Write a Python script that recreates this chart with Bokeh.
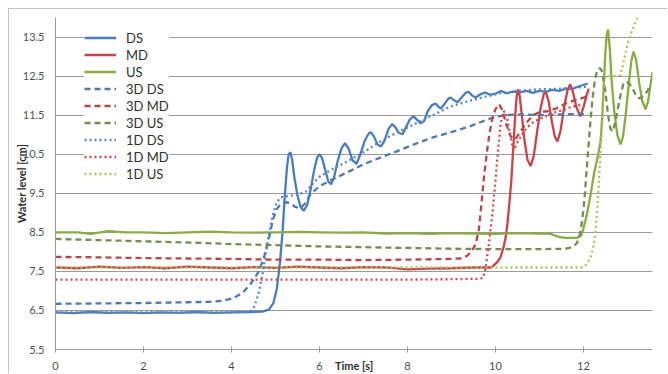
from bokeh.plotting import figure
from bokeh.models import Range1d, FixedTicker, Legend, LegendItem
from bokeh.embed import file_html
from bokeh.resources import INLINE

# ---- data (time [s], water level [cm]) ----
ds_t = [0, 0.4, 0.8, 1.2, 1.6, 2.0, 2.4, 2.8, 3.2, 3.6, 4.0, 4.4, 4.7, 4.85, 4.95, 5.03, 5.1, 5.16, 5.21, 5.26, 5.3, 5.34, 5.38, 5.43, 5.5, 5.57, 5.64, 5.72, 5.8, 5.88, 5.95, 6.0, 6.06, 6.13, 6.2, 6.26, 6.33, 6.42, 6.5, 6.58, 6.66, 6.75, 6.84, 6.93, 7.03, 7.12, 7.17, 7.24, 7.32, 7.4, 7.48, 7.57, 7.65, 7.72, 7.8, 7.89, 7.97, 8.06, 8.14, 8.22, 8.3, 8.38, 8.46, 8.55, 8.64, 8.7, 8.76, 8.85, 8.93, 8.98, 9.06, 9.14, 9.23, 9.32, 9.39, 9.47, 9.55, 9.65, 9.77, 9.88, 10.0, 10.12, 10.25, 10.4, 10.55, 10.7, 10.85, 11.0, 11.15, 11.3, 11.45, 11.6, 11.75, 11.9, 12.1]
ds_h = [6.45, 6.43, 6.46, 6.44, 6.45, 6.43, 6.45, 6.44, 6.46, 6.44, 6.45, 6.46, 6.47, 6.52, 6.68, 7.05, 7.7, 8.5, 9.4, 10.15, 10.5, 10.55, 10.35, 9.9, 9.45, 9.15, 9.05, 9.2, 9.6, 10.1, 10.42, 10.5, 10.4, 10.1, 9.8, 9.73, 9.9, 10.35, 10.65, 10.78, 10.65, 10.35, 10.25, 10.5, 10.85, 11.03, 11.06, 10.95, 10.75, 10.7, 10.85, 11.15, 11.27, 11.2, 11.05, 11.01, 11.2, 11.4, 11.47, 11.38, 11.29, 11.35, 11.6, 11.75, 11.8, 11.72, 11.67, 11.8, 11.92, 11.95, 11.88, 11.83, 11.95, 12.07, 12.1, 12.0, 11.95, 12.03, 12.08, 12.02, 12.05, 12.12, 12.06, 12.1, 12.08, 12.12, 12.07, 12.12, 12.1, 12.15, 12.12, 12.18, 12.17, 12.24, 12.31]

md_t = [0, 0.5, 1, 1.5, 2, 2.5, 3, 3.5, 4, 4.5, 5, 5.5, 6, 6.5, 7, 7.5, 8, 8.5, 9, 9.5, 9.9, 9.95, 10.05, 10.11, 10.18, 10.23, 10.27, 10.3, 10.36, 10.41, 10.45, 10.48, 10.51, 10.55, 10.6, 10.66, 10.73, 10.8, 10.87, 10.95, 11.03, 11.1, 11.15, 11.21, 11.28, 11.35, 11.41, 11.48, 11.56, 11.64, 11.7, 11.76, 11.84, 11.93, 12.0, 12.07, 12.12]
md_h = [7.6, 7.58, 7.62, 7.59, 7.61, 7.58, 7.62, 7.6, 7.58, 7.61, 7.59, 7.62, 7.6, 7.58, 7.61, 7.6, 7.55, 7.57, 7.58, 7.6, 7.6, 7.64, 7.75, 7.85, 8.1, 8.36, 8.7, 9.04, 9.81, 10.75, 11.5, 11.95, 12.16, 12.0, 11.5, 10.85, 10.35, 10.2, 10.45, 11.1, 11.7, 12.05, 12.08, 11.85, 11.35, 10.95, 10.83, 11.1, 11.7, 12.15, 12.29, 12.1, 11.7, 11.47, 11.7, 12.0, 12.18]

us_t = [0, 0.5, 0.8, 1.2, 1.6, 2, 2.5, 3, 3.5, 4, 4.5, 5, 5.5, 6, 6.5, 7, 7.5, 8, 8.5, 9, 9.5, 10, 10.5, 11, 11.25, 11.45, 11.6, 11.86, 11.95, 12.0, 12.08, 12.16, 12.24, 12.32, 12.39, 12.43, 12.46, 12.5, 12.53, 12.56, 12.6, 12.64, 12.7, 12.77, 12.84, 12.9, 12.96, 13.03, 13.09, 13.14, 13.2, 13.27, 13.34, 13.41, 13.47, 13.52, 13.57]
us_h = [8.5, 8.5, 8.46, 8.53, 8.5, 8.5, 8.48, 8.5, 8.52, 8.5, 8.49, 8.5, 8.51, 8.5, 8.49, 8.5, 8.47, 8.48, 8.46, 8.48, 8.47, 8.46, 8.48, 8.47, 8.46, 8.38, 8.36, 8.36, 8.42, 8.6, 8.97, 9.45, 10.0, 10.4, 10.83, 11.5, 12.2, 13.13, 13.55, 13.69, 13.2, 12.4, 11.6, 11.0, 10.75, 10.95, 11.5, 12.3, 12.9, 13.13, 12.9, 12.3, 11.85, 11.65, 11.85, 12.25, 12.6]

ds3_t = [0, 1, 2, 3, 3.5, 3.82, 4.05, 4.25, 4.45, 4.62, 4.75, 4.85, 4.95, 5.03, 5.12, 5.22, 5.32, 5.45, 5.57, 5.68, 5.8, 6.0, 6.25, 6.6, 7.0, 7.4, 7.77, 8.15, 8.52, 8.98, 9.43, 9.89, 10.2, 10.6, 11.0, 11.5, 12.11]
ds3_h = [6.67, 6.68, 6.69, 6.71, 6.72, 6.75, 6.82, 6.95, 7.2, 7.5, 7.9, 8.35, 8.85, 9.1, 9.22, 9.27, 9.25, 9.15, 9.12, 9.25, 9.48, 9.68, 9.83, 10.02, 10.24, 10.42, 10.58, 10.75, 10.91, 11.06, 11.22, 11.42, 11.5, 11.52, 11.5, 11.52, 11.53]

md3_t = [0, 1, 2, 3, 4, 5, 6, 7, 8, 8.98, 9.2, 9.36, 9.48, 9.55, 9.62, 9.66, 9.73, 9.8, 9.86, 9.93, 10.0, 10.08, 10.15, 10.25, 10.35, 10.45, 10.55, 10.7, 10.86, 11.0, 11.2, 11.4, 11.6, 11.8, 12.0, 12.11]
md3_h = [7.87, 7.86, 7.84, 7.83, 7.82, 7.8, 7.8, 7.79, 7.8, 7.82, 7.83, 7.9, 8.05, 8.2, 8.55, 8.97, 9.81, 10.5, 11.0, 11.42, 11.65, 11.78, 11.65, 11.25, 10.95, 10.88, 11.05, 11.3, 11.5, 11.58, 11.6, 11.68, 11.8, 11.88, 11.95, 11.98]

us3_t = [0, 1, 2, 3, 4, 5, 6, 7, 8, 9, 10, 11, 11.6, 11.75, 11.85, 11.92, 11.97, 12.02, 12.06, 12.1, 12.15, 12.2, 12.26, 12.32, 12.38, 12.43, 12.5, 12.56, 12.61, 12.66, 12.72, 12.78, 12.85, 12.91, 12.98, 13.05, 13.13, 13.22, 13.3, 13.38, 13.45, 13.52]
us3_h = [8.33, 8.3, 8.27, 8.24, 8.2, 8.17, 8.14, 8.12, 8.1, 8.08, 8.07, 8.07, 8.08, 8.12, 8.22, 8.45, 8.8, 9.3, 9.9, 10.5, 11.2, 11.85, 12.4, 12.68, 12.7, 12.6, 12.1, 11.5, 11.16, 11.08, 11.3, 11.65, 12.05, 12.3, 12.36, 12.3, 12.15, 11.95, 11.93, 12.05, 12.1, 12.28]

ds1_t = [0, 1, 2, 3, 4, 4.42, 4.52, 4.62, 4.7, 4.78, 4.86, 4.94, 5.02, 5.12, 5.3, 5.5, 5.7, 5.85, 6.02, 6.3, 6.64, 7.0, 7.39, 7.75, 8.14, 8.52, 8.98, 9.35, 9.73, 10.1, 10.5, 11.0, 11.5, 12.11]
ds1_h = [6.45, 6.45, 6.45, 6.45, 6.45, 6.46, 6.6, 6.95, 7.4, 7.95, 8.5, 8.95, 9.25, 9.4, 9.43, 9.46, 9.55, 9.75, 9.94, 10.12, 10.32, 10.55, 10.83, 11.05, 11.26, 11.47, 11.72, 11.85, 11.96, 12.06, 12.12, 12.16, 12.18, 12.23]

md1_t = [0, 2, 4, 6, 8, 9.0, 9.6, 9.72, 9.77, 9.84, 9.93, 10.0, 10.06, 10.12, 10.18, 10.22, 10.28, 10.34, 10.41, 10.5, 10.6, 10.73, 10.9, 11.1, 11.3, 11.5, 11.75, 12.0]
md1_h = [7.29, 7.29, 7.29, 7.29, 7.29, 7.3, 7.31, 7.33, 7.55, 8.1, 8.97, 9.81, 10.6, 11.3, 11.58, 11.6, 11.35, 10.95, 10.6, 10.8, 11.0, 11.2, 11.35, 11.45, 11.55, 11.62, 11.72, 11.78]

us1_t = [0, 2, 4, 6, 8, 10, 11, 11.95, 12.05, 12.16, 12.22, 12.27, 12.31, 12.34, 12.38, 12.41, 12.44, 12.47, 12.55, 12.7, 12.84, 12.9, 12.96, 13.02, 13.1, 13.22, 13.26]
us1_h = [7.6, 7.6, 7.6, 7.6, 7.6, 7.6, 7.6, 7.6, 7.66, 7.85, 8.1, 8.46, 9.0, 9.56, 10.4, 11.0, 11.9, 12.44, 12.5, 12.5, 12.52, 12.8, 13.1, 13.38, 13.65, 13.97, 14.1]

y_ticks = [5.5, 6.5, 7.5, 8.5, 9.5, 10.5, 11.5, 12.5, 13.5]
x_ticks = [0, 2, 4, 6, 8, 10, 12]

FONT = "Lato"

p = figure(width=659, height=365, output_backend="svg", toolbar_location=None,
           x_range=Range1d(0, 13.57), y_range=Range1d(5.5, 14.0),
           min_border_left=46, min_border_right=16, min_border_top=8, min_border_bottom=25)
p.margin = (8, 0, 0, 8)
p.styles = {"border-left": "1px solid #c4c4c4", "border-top": "1px solid #c4c4c4"}
p.outline_line_color = None
p.background_fill_color = "white"
p.border_fill_color = "white"

p.xgrid.visible = False
p.ygrid.ticker = FixedTicker(ticks=y_ticks)
p.ygrid.grid_line_color = "#9a9a9a"
p.ygrid.grid_line_width = 1

p.yaxis.ticker = FixedTicker(ticks=y_ticks)
p.yaxis.major_tick_out = 0
p.yaxis.major_tick_in = 0
p.yaxis.minor_tick_line_color = None
p.yaxis.major_label_standoff = 11
p.yaxis.axis_line_color = "#9a9a9a"
p.yaxis.major_label_text_font = FONT
p.yaxis.major_label_text_font_size = "11px"
p.yaxis.major_label_text_color = "#505050"
p.yaxis.axis_label = "Water level [cm]"
p.yaxis.axis_label_text_font = FONT
p.yaxis.axis_label_text_font_style = "bold"
p.yaxis.axis_label_text_font_size = "11px"
p.yaxis.axis_label_text_color = "#303030"
p.yaxis.axis_label_standoff = -8

p.xaxis.ticker = FixedTicker(ticks=x_ticks)
p.xaxis.major_tick_out = 3
p.xaxis.major_tick_in = 3
p.xaxis.major_tick_line_color = "#9a9a9a"
p.xaxis.minor_tick_line_color = None
p.xaxis.axis_line_color = "#9a9a9a"
p.xaxis.major_label_standoff = 9
p.xaxis.major_label_text_font = FONT
p.xaxis.major_label_text_font_size = "11px"
p.xaxis.major_label_text_color = "#505050"
p.xaxis.axis_label = "Time [s]"
p.xaxis.axis_label_text_font = FONT
p.xaxis.axis_label_text_font_style = "bold"
p.xaxis.axis_label_text_font_size = "11px"
p.xaxis.axis_label_text_color = "#303030"
p.xaxis.axis_label_standoff = -14

series = [
    ("DS", ds_t, ds_h, "#4A7EBB", "solid"),
    ("MD", md_t, md_h, "#C8434B", "solid"),
    ("US", us_t, us_h, "#88AC46", "solid"),
    ("3D DS", ds3_t, ds3_h, "#4F7AB0", "6 4"),
    ("3D MD", md3_t, md3_h, "#B5474A", "6 4"),
    ("3D US", us3_t, us3_h, "#788C50", "6 4"),
    ("1D DS", ds1_t, ds1_h, "#5A86C2", "2 3"),
    ("1D MD", md1_t, md1_h, "#D04848", "2 3"),
    ("1D US", us1_t, us1_h, "#A8C45A", "2 3"),
]

items = []
for name, t, h, col, dash in series:
    r = p.line(t, h, line_color=col, line_width=2.3, line_dash=dash)
    items.append(LegendItem(label=name, renderers=[r]))

legend = Legend(items=items, location=(29, 167), margin=0, padding=3,
                spacing=0, label_height=17, glyph_height=17, glyph_width=32,
                label_standoff=10, label_text_font=FONT, label_text_font_size="13px",
                label_text_color="#303030", background_fill_color="white",
                background_fill_alpha=1.0, border_line_color=None)
p.add_layout(legend, "center")

open("out.html", "w").write(file_html(p, INLINE))
